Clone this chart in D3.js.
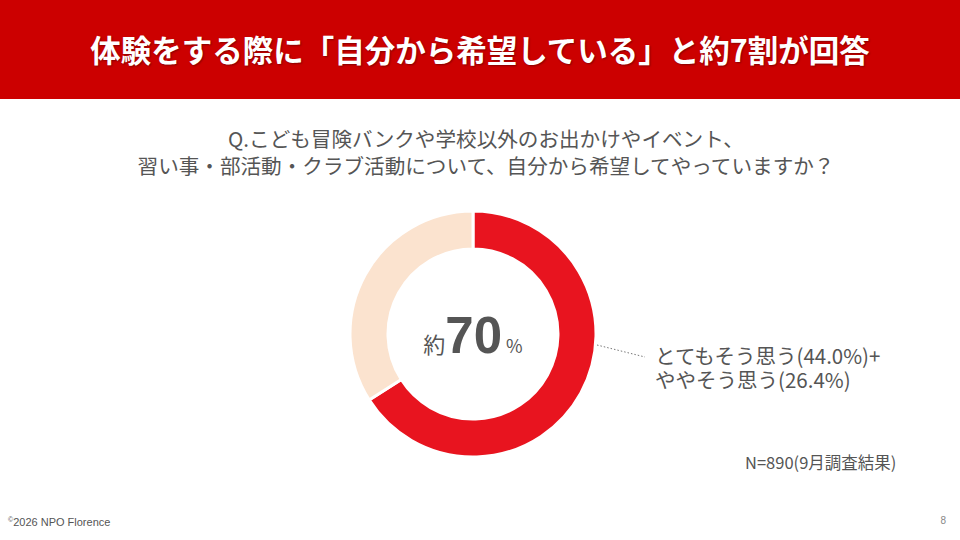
<!DOCTYPE html>
<html><head><meta charset="utf-8">
<script src="https://cdn.jsdelivr.net/npm/d3@7"></script>
<style>body{margin:0;background:#fff;}svg{display:block;}</style>
</head><body>
<script>
const title = "体験をする際に「自分から希望している」と約7割が回答";
const questionLines = ["Q.こども冒険バンクや学校以外のお出かけやイベント、", "習い事・部活動・クラブ活動について、自分から希望してやっていますか？"];
const categories = ["とてもそう思う+ややそう思う", "その他"];
const values = [66, 34];
const labelLines = ["とてもそう思う(44.0%)+", "ややそう思う(26.4%)"];
const centerLabel = ["約", "70", "%"];
const note = "N=890(9月調査結果)";
const colors = ["#e8141f", "#fbe3cf"];

const W = 960, H = 540;
const svg = d3.select("body").append("svg").attr("width", W).attr("height", H);
const jp = "'Noto Sans CJK JP','Noto Sans',sans-serif";

svg.append("rect").attr("x",0).attr("y",0).attr("width",W).attr("height",99).attr("fill","#cc0000");
svg.append("text").attr("x",480).attr("y",62).attr("text-anchor","middle")
  .attr("font-family",jp).attr("font-weight","bold").attr("font-size",30.5)
  .attr("fill","#fff").attr("style","text-shadow:1px 1px 2px rgba(0,0,0,0.35)").text(title);

svg.selectAll("text.q").data(questionLines).join("text").attr("class","q")
  .attr("x",486).attr("y",(d,i)=>147+i*27).attr("text-anchor","middle")
  .attr("font-family",jp).attr("font-size",20.6).attr("fill","#555").text(d=>d);

const cx = 473, cy = 334, R = 123, r = 85;
const pie = d3.pie().sort(null).value(d=>d)(values);
const arc = d3.arc().innerRadius(r).outerRadius(R);
const g = svg.append("g").attr("transform",`translate(${cx},${cy})`);
g.selectAll("path").data(pie).join("path").attr("d",arc)
  .attr("fill",(d,i)=>colors[i]).attr("stroke","#fff").attr("stroke-width",3);

const ct = svg.append("text").attr("x",cx).attr("y",353).attr("text-anchor","middle")
  .attr("font-family",jp).attr("fill","#555");
ct.append("tspan").attr("font-size",22).text(centerLabel[0]);
ct.append("tspan").attr("font-family","'Liberation Sans',Arial,sans-serif").attr("font-weight","bold").attr("font-size",51).text(centerLabel[1]);
ct.append("tspan").attr("font-size",18).attr("dx",4).text(centerLabel[2]);

svg.append("line").attr("x1",597).attr("y1",345).attr("x2",645).attr("y2",357)
  .attr("stroke","#777").attr("stroke-width",1).attr("stroke-dasharray","1.5,2");
svg.selectAll("text.lab").data(labelLines).join("text").attr("class","lab")
  .attr("x",655).attr("y",(d,i)=>364+i*24)
  .attr("font-family",jp).attr("font-size",20.5).attr("fill","#555").text(d=>d);

svg.append("text").attr("x",745).attr("y",469).attr("font-family",jp).attr("font-size",16.5).attr("fill","#555").text(note);

svg.append("text").attr("x",8).attr("y",526).attr("font-family","'Liberation Sans',Arial,sans-serif").attr("font-size",11).attr("fill","#555")
  .html('<tspan font-size="7" dy="-4">©</tspan><tspan dy="4">2026 NPO Florence</tspan>');
svg.append("text").attr("x",946).attr("y",524).attr("text-anchor","end").attr("font-family","'Liberation Sans',Arial,sans-serif").attr("font-size",10).attr("fill","#888").text("8");
</script>
</body></html>
